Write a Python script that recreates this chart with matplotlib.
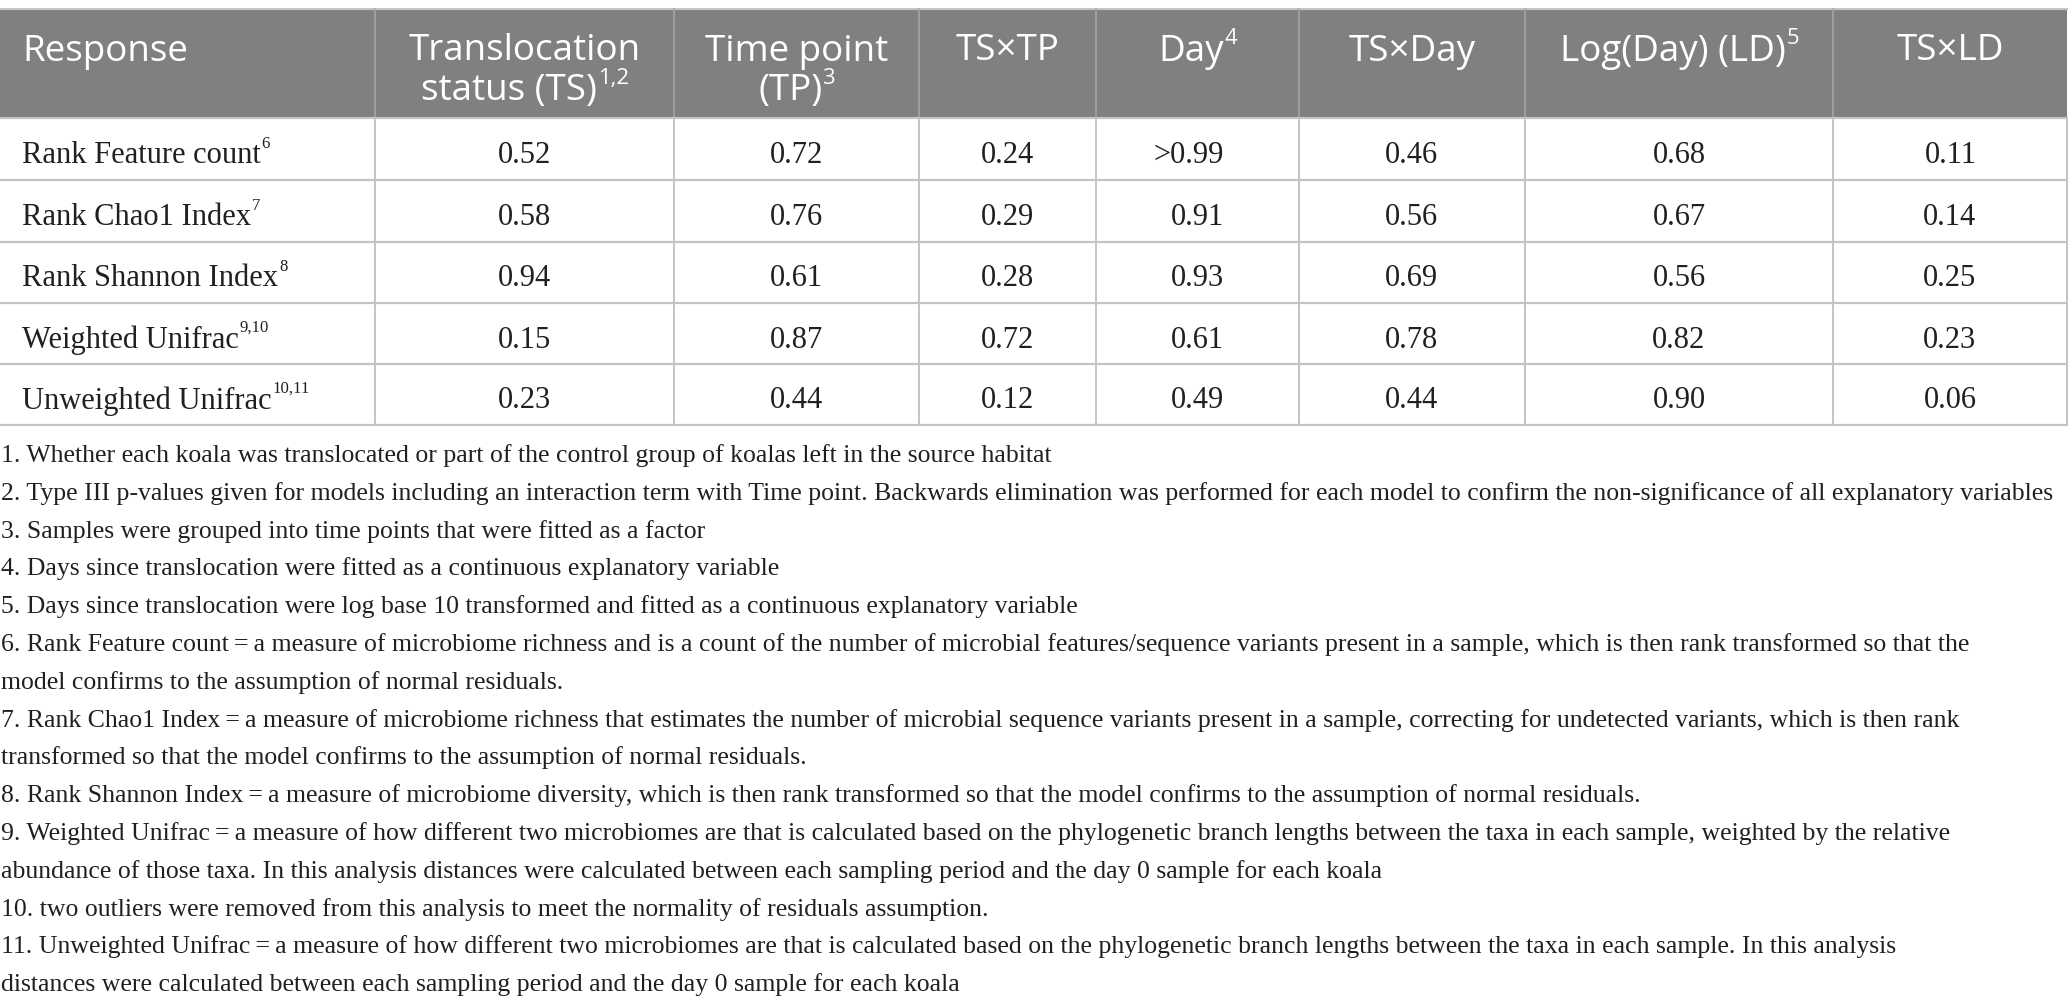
import matplotlib
matplotlib.use("Agg")
import matplotlib.pyplot as plt

# table content
headers = ["Response", "Translocation\nstatus (TS)", "Time point\n(TP)", "TS×TP",
           "Day", "TS×Day", "Log(Day) (LD)", "TS×LD"]
header_sups = ["", "1,2", "3", "", "4", "", "5", ""]

responses = ["Rank Feature count", "Rank Chao1 Index", "Rank Shannon Index",
             "Weighted Unifrac", "Unweighted Unifrac"]
response_sups = ["6", "7", "8", "9,10", "10,11"]
ts = ["0.52", "0.58", "0.94", "0.15", "0.23"]
tp = ["0.72", "0.76", "0.61", "0.87", "0.44"]
ts_tp = ["0.24", "0.29", "0.28", "0.72", "0.12"]
day = [">0.99", "0.91", "0.93", "0.61", "0.49"]
ts_day = ["0.46", "0.56", "0.69", "0.78", "0.44"]
log_day = ["0.68", "0.67", "0.56", "0.82", "0.90"]
ts_ld = ["0.11", "0.14", "0.25", "0.23", "0.06"]

footnotes = [
    "1. Whether each koala was translocated or part of the control group of koalas left in the source habitat",
    "2. Type III p-values given for models including an interaction term with Time point. Backwards elimination was performed for each model to confirm the non-significance of all explanatory variables",
    "3. Samples were grouped into time points that were fitted as a factor",
    "4. Days since translocation were fitted as a continuous explanatory variable",
    "5. Days since translocation were log base 10 transformed and fitted as a continuous explanatory variable",
    "6. Rank Feature count\u2009=\u2009a measure of microbiome richness and is a count of the number of microbial features/sequence variants present in a sample, which is then rank transformed so that the",
    "model confirms to the assumption of normal residuals.",
    "7. Rank Chao1 Index\u2009=\u2009a measure of microbiome richness that estimates the number of microbial sequence variants present in a sample, correcting for undetected variants, which is then rank",
    "transformed so that the model confirms to the assumption of normal residuals.",
    "8. Rank Shannon Index\u2009=\u2009a measure of microbiome diversity, which is then rank transformed so that the model confirms to the assumption of normal residuals.",
    "9. Weighted Unifrac\u2009=\u2009a measure of how different two microbiomes are that is calculated based on the phylogenetic branch lengths between the taxa in each sample, weighted by the relative",
    "abundance of those taxa. In this analysis distances were calculated between each sampling period and the day 0 sample for each koala",
    "10. two outliers were removed from this analysis to meet the normality of residuals assumption.",
    "11. Unweighted Unifrac\u2009=\u2009a measure of how different two microbiomes are that is calculated based on the phylogenetic branch lengths between the taxa in each sample. In this analysis",
    "distances were calculated between each sampling period and the day 0 sample for each koala",
]

# layout (pixels)
W, H = 2068, 1007
col_edges = [0, 375, 674, 919, 1096, 1299, 1525, 1833, 2067]
row_edges = [118, 180, 242, 303, 364, 425]
head_top = 9
head_color = "#7f807f"
line_color = "#c4c4c4"
text_color = "#231f20"
serif = ["Liberation Serif", "DejaVu Serif"]
sans = ["Open Sans", "DejaVu Sans"]
body_fs = 22
head_fs = 26.5

fig = plt.figure(figsize=(W / 100, H / 100), dpi=100)
ax = fig.add_axes([0, 0, 1, 1])
ax.set_xlim(0, W)
ax.set_ylim(H, 0)
ax.axis("off")
renderer = fig.canvas.get_renderer()


def width_of(s, **kw):
    t = ax.text(0, 0, s, **kw)
    w = t.get_window_extent(renderer).width
    t.remove()
    return w


def text_sup(x, y, s, sup, ha, fs, family, color, sup_scale=0.6, rise=0.42):
    kw = dict(fontsize=fs, family=family, color=color)
    skw = dict(fontsize=fs * sup_scale, family=family, color=color)
    w1 = width_of(s, **kw)
    w2 = width_of(sup, **skw) if sup else 0
    if ha == "center":
        x0 = x - (w1 + w2) / 2
    else:
        x0 = x
    ax.text(x0, y, s, ha="left", va="center_baseline", **kw)
    if sup:
        ax.text(x0 + w1 + 1, y - fs * rise * 100 / 72, sup, ha="left",
                va="center_baseline", **skw)


# header
ax.fill_between([col_edges[0], col_edges[-1]], head_top, row_edges[0], color=head_color, lw=0)
ax.plot([0, W], [head_top - 0.5, head_top - 0.5], color=line_color, lw=1.5)
for xe in col_edges[1:-1]:
    ax.plot([xe, xe], [head_top, row_edges[0]], color="#a3a4a3", lw=1.2)

for i, (hdr, sup) in enumerate(zip(headers, header_sups)):
    lines = hdr.split("\n")
    cx = (col_edges[i] + col_edges[i + 1]) / 2
    for j, ln in enumerate(lines):
        y = 47 + j * 40
        s = sup if j == len(lines) - 1 else ""
        if i == 0:
            text_sup(22, y, ln, s, "left", head_fs, sans, "white")
        else:
            text_sup(cx, y, ln, s, "center", head_fs, sans, "white", sup_scale=0.6, rise=0.3)

# body grid
for ye in row_edges:
    ax.plot([0, W], [ye, ye], color=line_color, lw=1.6)
for xe in col_edges[1:]:
    ax.plot([xe, xe], [row_edges[0], row_edges[-1]], color=line_color, lw=1.4)

columns = [ts, tp, ts_tp, day, ts_day, log_day, ts_ld]
ref_w = width_of("0.00", fontsize=body_fs, family=serif)
for r in range(len(responses)):
    cy = (row_edges[r] + row_edges[r + 1]) / 2 + 3
    text_sup(22, cy, responses[r], response_sups[r], "left", body_fs, serif, text_color,
             sup_scale=0.55, rise=0.34)
    for c, vals in enumerate(columns):
        cx = (col_edges[c + 1] + col_edges[c + 2]) / 2
        ax.text(cx + ref_w / 2, cy, vals[r], ha="right", va="center_baseline",
                fontsize=body_fs, family=serif, color=text_color)

# footnotes: size chosen so the long lines fill the width like the original
fit = min(2056 / width_of(footnotes[5], fontsize=body_fs, family=serif),
          2046 / width_of(footnotes[1], fontsize=body_fs, family=serif))
foot_fs = body_fs * fit
for k, note in enumerate(footnotes):
    ax.text(1, 453 + k * 37.8, note, ha="left", va="center_baseline",
            fontsize=foot_fs, family=serif, color=text_color)

fig.savefig("out.png", dpi=100)
